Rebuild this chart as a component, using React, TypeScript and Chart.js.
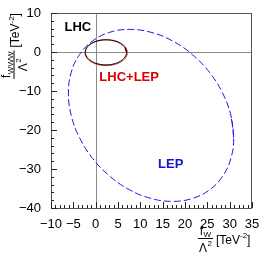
import React, { useEffect, useRef } from "react";
import { Chart, registerables } from "chart.js";

Chart.register(...registerables);

// ---- data ----
const xTickValues = [-10, -5, 0, 5, 10, 15, 20, 25, 30, 35];
const yTickValues = [-40, -30, -20, -10, 0, 10];

// LEP contour (blue dashed)
const lepX = [30.9, 30.27, 28.42, 25.48, 21.65, 17.19, 12.4, 7.61, 3.15, -0.68, -3.62, -5.47, -6.1, -5.47, -3.62, -0.68, 3.15, 7.61, 12.4, 17.19, 21.65, 25.48, 28.42, 30.27];
const lepY = [-21.96, -16.25, -10.54, -5.22, -0.66, 2.85, 5.05, 5.8, 5.05, 2.85, -0.66, -5.22, -10.54, -16.25, -21.96, -27.28, -31.84, -35.35, -37.55, -38.3, -37.55, -35.35, -31.84, -27.28];

// LHC contour (black)
const lhcX = [6.9, 6.55, 5.55, 4.06, 2.3, 0.54, -0.95, -1.95, -2.3, -1.95, -0.95, 0.54, 2.3, 4.06, 5.55, 6.55];
const lhcY = [-0.1, 1.12, 2.16, 2.86, 3.1, 2.86, 2.16, 1.12, -0.1, -1.32, -2.36, -3.06, -3.3, -3.06, -2.36, -1.32];

// LHC+LEP contour (red)
const comboX = [7.1, 6.74, 5.71, 4.17, 2.35, 0.53, -1.01, -2.04, -2.4, -2.04, -1.01, 0.53, 2.35, 4.17, 5.71, 6.74];
const comboY = [-0.15, 1.12, 2.2, 2.93, 3.18, 2.93, 2.2, 1.12, -0.15, -1.42, -2.5, -3.23, -3.48, -3.23, -2.5, -1.42];

// ---- styling ----
const FONT = '"Liberation Sans", Arial, Helvetica, sans-serif';

const closedPts = (xs: number[], ys: number[]) => {
  const p = xs.map((x, i) => ({ x, y: ys[i] }));
  p.push(p[0], p[1]);
  return p;
};

const fmt = (v: number | string) => String(v).replace("-", "\u2212");

function drawFracTitle(ctx: CanvasRenderingContext2D, x0: number, barY: number, sub: string) {
  ctx.save();
  ctx.fillStyle = "#000";
  ctx.strokeStyle = "#000";
  ctx.textBaseline = "alphabetic";
  ctx.textAlign = "left";
  const big = `12px ${FONT}`;
  const small = `8px ${FONT}`;
  ctx.font = big;
  const fW = ctx.measureText("f").width;
  const lamW = ctx.measureText("\u039B").width;
  const brW = ctx.measureText("[TeV").width;
  ctx.font = small;
  const subW = ctx.measureText(sub).width;
  const twoW = ctx.measureText("2").width;
  const supW = ctx.measureText("-2").width;
  const numW = fW + 0.5 + subW;
  const denW = lamW + 0.5 + twoW;
  const barW = Math.max(numW, denW) + 2;
  // numerator
  const nx = x0 + (barW - numW) / 2;
  ctx.font = big;
  ctx.fillText("f", nx, barY - 4);
  ctx.font = small;
  ctx.fillText(sub, nx + fW + 0.5, barY - 1.5);
  // bar
  ctx.lineWidth = 1;
  ctx.beginPath();
  ctx.moveTo(x0, barY);
  ctx.lineTo(x0 + barW, barY);
  ctx.stroke();
  // denominator
  const dx = x0 + (barW - denW) / 2;
  ctx.font = big;
  ctx.fillText("\u039B", dx, barY + 13);
  ctx.font = small;
  ctx.fillText("2", dx + lamW + 0.5, barY + 7);
  // unit
  const bx = x0 + barW + 3;
  ctx.font = big;
  ctx.fillText("[TeV", bx, barY + 5);
  ctx.font = small;
  ctx.fillText("-2", bx + brW, barY - 0.5);
  ctx.font = big;
  ctx.fillText("]", bx + brW + supW, barY + 5);
  ctx.restore();
}

const decorPlugin = {
  id: "decor",
  beforeDatasetsDraw(chart: any) {
    const { ctx, chartArea: a, scales } = chart;
    const xs = scales.x;
    const ys = scales.y;
    ctx.save();
    ctx.strokeStyle = "#8a8a8a";
    ctx.lineWidth = 1;
    const x0 = Math.round(xs.getPixelForValue(0)) + 0.5;
    const y0 = Math.round(ys.getPixelForValue(0)) + 0.5;
    ctx.beginPath();
    ctx.moveTo(x0, a.top);
    ctx.lineTo(x0, a.bottom);
    ctx.moveTo(a.left, y0);
    ctx.lineTo(a.right, y0);
    ctx.stroke();
    ctx.restore();
  },
  afterDraw(chart: any) {
    const { ctx, chartArea: a, scales } = chart;
    const xs = scales.x;
    const ys = scales.y;
    ctx.save();
    // frame
    ctx.strokeStyle = "#555";
    ctx.lineWidth = 1;
    ctx.strokeRect(a.left + 0.5, a.top + 0.5, a.right - a.left - 1, a.bottom - a.top);
    // ticks
    ctx.strokeStyle = "#222";
    ctx.beginPath();
    for (let v = -10; v <= 35; v += 1) {
      const px = Math.round(xs.getPixelForValue(v)) + 0.5;
      const len = v % 5 === 0 ? 6 : 3;
      ctx.moveTo(px, a.bottom);
      ctx.lineTo(px, a.bottom - len);
    }
    for (let v = -40; v <= 10; v += 2) {
      const py = Math.round(ys.getPixelForValue(v)) + 0.5;
      const len = v % 10 === 0 ? 6 : 3;
      ctx.moveTo(a.left, py);
      ctx.lineTo(a.left + len, py);
    }
    ctx.stroke();

    // annotations
    ctx.font = `bold 13px ${FONT}`;
    ctx.textAlign = "center";
    ctx.textBaseline = "middle";
    ctx.fillStyle = "#000";
    ctx.fillText("LHC", xs.getPixelForValue(-4.0), ys.getPixelForValue(6.2));
    ctx.fillStyle = "#dd0000";
    ctx.fillText("LHC+LEP", xs.getPixelForValue(7.5), ys.getPixelForValue(-6.6));
    ctx.fillStyle = "#1414cc";
    ctx.fillText("LEP", xs.getPixelForValue(16.8), ys.getPixelForValue(-28.9));
    ctx.restore();

    // axis titles
    drawFracTitle(ctx, 198, 238.5, "W");
    ctx.save();
    ctx.rotate(-Math.PI / 2);
    drawFracTitle(ctx, -79, 14, "WWW");
    ctx.restore();
  },
};

export default function App() {
  const ref = useRef<HTMLCanvasElement | null>(null);

  useEffect(() => {
    document.body.style.margin = "0";
    const canvas = ref.current;
    if (!canvas) return;
    const chart = new Chart(canvas, {
      type: "scatter",
      data: {
        datasets: [
          {
            label: "LHC",
            data: closedPts(lhcX, lhcY),
            showLine: true,
            borderColor: "#000000",
            borderWidth: 1,
            pointRadius: 0,
            tension: 0.4,
            fill: false,
          },
          {
            label: "LHC+LEP",
            data: closedPts(comboX, comboY),
            showLine: true,
            borderColor: "#e23b3b",
            borderWidth: 1,
            pointRadius: 0,
            tension: 0.4,
            fill: false,
          },
          {
            label: "LEP",
            data: closedPts(lepX, lepY),
            showLine: true,
            borderColor: "#1a1ae6",
            borderWidth: 1,
            borderDash: [7, 3],
            pointRadius: 0,
            tension: 0.4,
            fill: false,
          },
        ],
      },
      options: {
        animation: false,
        responsive: false,
        maintainAspectRatio: false,
        layout: { padding: { top: 13, right: 14, left: 0, bottom: 0 } },
        plugins: { legend: { display: false }, tooltip: { enabled: false } },
        scales: {
          x: {
            type: "linear",
            min: -10,
            max: 35,
            afterBuildTicks: (s: any) => {
              s.ticks = xTickValues.map((v) => ({ value: v }));
            },
            afterFit: (s: any) => {
              s.height = 47;
            },
            grid: { display: false },
            border: { display: false },
            ticks: {
              autoSkip: false,
              maxRotation: 0,
              padding: 1,
              color: "#000",
              font: { family: FONT, size: 13 },
              callback: (v: any) => fmt(v),
            },
          },
          y: {
            type: "linear",
            min: -40,
            max: 10,
            afterBuildTicks: (s: any) => {
              s.ticks = yTickValues.map((v) => ({ value: v }));
            },
            afterFit: (s: any) => {
              s.width = 51;
            },
            grid: { display: false },
            border: { display: false },
            ticks: {
              autoSkip: false,
              padding: 2,
              color: "#000",
              font: { family: FONT, size: 13 },
              callback: (v: any) => fmt(v),
            },
          },
        },
      },
      plugins: [decorPlugin],
    });
    return () => chart.destroy();
  }, []);

  return (
    <div style={{ width: 266, height: 255, background: "#fff" }}>
      <canvas ref={ref} width={266} height={255} style={{ display: "block", width: 266, height: 255 }} />
    </div>
  );
}
